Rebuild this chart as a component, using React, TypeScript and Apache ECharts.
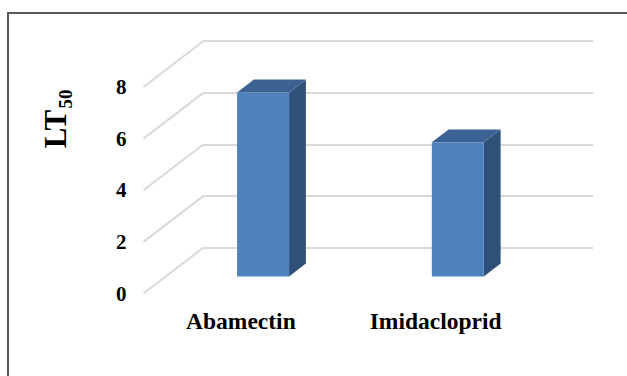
import React, { useEffect, useRef } from "react";
import * as echarts from "echarts";

// LT50 per insecticide
const categories = ["Abamectin", "Imidacloprid"];
const lt50Values = [7.13, 5.2];
const yTicks = [0, 2, 4, 6, 8];

// 3D look: offset from the front floor edge to the back wall
const DEPTH_X = 60;
const DEPTH_Y = 46;
// bars stand part-way into the floor depth
const BAR_FRONT = 0.37;
const BAR_DEPTH = 0.28;
const BAR_WIDTH_RATIO = 0.267;

const FRONT = { left: 143.5, top: 87, width: 389.5, height: 206.5 };
const FONT = "serif";
const GRID_COLOR = "#D9D9D9";

export default function App() {
  const ref = useRef<HTMLDivElement>(null);

  useEffect(() => {
    if (!ref.current) return;
    const chart = echarts.init(ref.current, undefined, { renderer: "svg" });

    const yMin = yTicks[0];
    const yMax = yTicks[yTicks.length - 1];
    const yInterval = yTicks[1] - yTicks[0];

    const option: any = {
      animation: false,
      backgroundColor: "#ffffff",
      textStyle: { fontFamily: FONT },
      grid: [
        { ...FRONT },
        {
          left: FRONT.left + DEPTH_X,
          top: FRONT.top - DEPTH_Y,
          width: FRONT.width,
          height: FRONT.height,
        },
      ],
      xAxis: [
        {
          type: "category",
          gridIndex: 0,
          data: categories,
          axisLine: { show: false },
          axisTick: { show: false },
          axisLabel: {
            margin: 15,
            fontSize: 23.5,
            fontWeight: "bold",
            fontFamily: FONT,
            color: "#000",
          },
        },
        { type: "category", gridIndex: 1, data: categories, show: false },
      ],
      yAxis: [
        {
          type: "value",
          gridIndex: 0,
          min: yMin,
          max: yMax,
          interval: yInterval,
          axisLine: { show: false },
          axisTick: { show: false },
          splitLine: { show: false },
          axisLabel: {
            margin: 17,
            fontSize: 21,
            fontWeight: "bold",
            fontFamily: FONT,
            color: "#000",
          },
        },
        {
          type: "value",
          gridIndex: 1,
          min: yMin,
          max: yMax,
          interval: yInterval,
          axisLine: { show: false },
          axisTick: { show: false },
          axisLabel: { show: false },
          splitLine: { show: true, lineStyle: { color: GRID_COLOR, width: 2 } },
        },
      ],
      series: [
        {
          // side-wall gridlines running from the front edge to the back wall
          type: "custom",
          xAxisIndex: 0,
          yAxisIndex: 0,
          silent: true,
          clip: false,
          z: 1,
          data: yTicks.map((v) => [0, v]),
          renderItem: (params: any, api: any) => {
            const p = api.coord([0, api.value(1)]);
            const x0 = params.coordSys.x;
            return {
              type: "line",
              shape: { x1: x0, y1: p[1], x2: x0 + DEPTH_X, y2: p[1] - DEPTH_Y },
              style: { stroke: GRID_COLOR, lineWidth: 2 },
            };
          },
        },
        {
          // 3D columns
          type: "custom",
          xAxisIndex: 0,
          yAxisIndex: 0,
          clip: false,
          z: 3,
          data: lt50Values.map((v, i) => [i, v]),
          renderItem: (params: any, api: any) => {
            const idx = api.value(0);
            const val = api.value(1);
            const base = api.coord([idx, 0]);
            const top = api.coord([idx, val]);
            const w = api.size([1, 0])[0] * BAR_WIDTH_RATIO;
            const ox = DEPTH_X * BAR_FRONT;
            const oy = -DEPTH_Y * BAR_FRONT;
            const dx = DEPTH_X * BAR_DEPTH;
            const dy = -DEPTH_Y * BAR_DEPTH;
            const xl = base[0] + ox - w / 2;
            const xr = xl + w;
            const yt = top[1] + oy;
            const yb = base[1] + oy;
            return {
              type: "group",
              children: [
                {
                  type: "polygon",
                  shape: {
                    points: [
                      [xr, yt],
                      [xr + dx, yt + dy],
                      [xr + dx, yb + dy],
                      [xr, yb],
                    ],
                  },
                  style: { fill: "#2F5179" },
                },
                {
                  type: "polygon",
                  shape: {
                    points: [
                      [xl, yt],
                      [xr, yt],
                      [xr + dx, yt + dy],
                      [xl + dx, yt + dy],
                    ],
                  },
                  style: { fill: "#3B6292" },
                },
                {
                  type: "rect",
                  shape: { x: xl, y: yt, width: w, height: yb - yt },
                  style: { fill: "#4F81BD" },
                },
              ],
            };
          },
        },
      ],
      graphic: [
        {
          type: "line",
          shape: { x1: 7, y1: 13, x2: 627, y2: 13 },
          style: { stroke: "#595959", lineWidth: 2 },
          silent: true,
        },
        {
          type: "line",
          shape: { x1: 8, y1: 12, x2: 8, y2: 376 },
          style: { stroke: "#595959", lineWidth: 2 },
          silent: true,
        },
        {
          type: "text",
          x: 55,
          y: 129,
          rotation: Math.PI / 2,
          style: {
            text: "LT",
            fontSize: 31,
            fontWeight: "bold",
            fontFamily: FONT,
            fill: "#000",
            align: "center",
            verticalAlign: "middle",
          },
        },
        {
          type: "text",
          x: 65.5,
          y: 99,
          rotation: Math.PI / 2,
          style: {
            text: "50",
            fontSize: 19,
            fontWeight: "bold",
            fontFamily: FONT,
            fill: "#000",
            align: "center",
            verticalAlign: "middle",
          },
        },
      ],
    };

    chart.setOption(option);
    return () => chart.dispose();
  }, []);

  return (
    <div
      ref={ref}
      style={{ position: "absolute", left: 0, top: 0, width: 627, height: 376 }}
    />
  );
}
